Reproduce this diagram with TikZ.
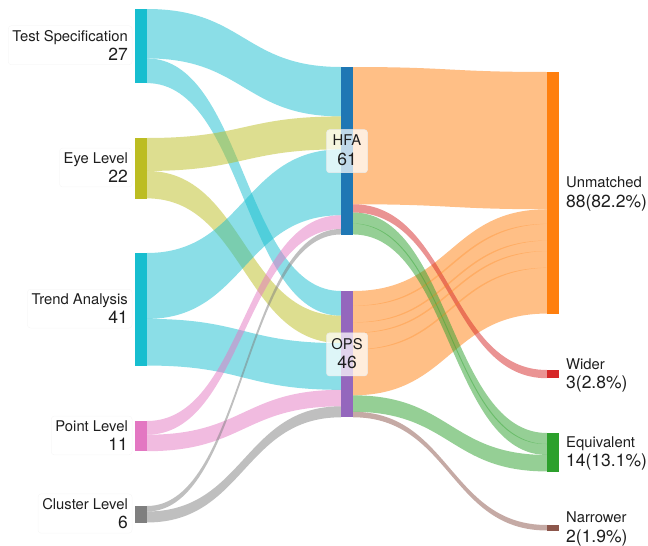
\documentclass[tikz,border=0pt]{standalone}
\usepackage{fontspec}
\setmainfont{TeX Gyre Heros}
\usetikzlibrary{fit}
\definecolor{cTS}{HTML}{17BECF}
\definecolor{cEL}{HTML}{BCBD22}
\definecolor{cPL}{HTML}{E377C2}
\definecolor{cCL}{HTML}{7F7F7F}
\definecolor{cHFA}{HTML}{1F77B4}
\definecolor{cOPS}{HTML}{9467BD}
\definecolor{cUN}{HTML}{FF7F0E}
\definecolor{cWI}{HTML}{D62728}
\definecolor{cEQ}{HTML}{2CA02C}
\definecolor{cNA}{HTML}{8C564B}
\definecolor{txt}{HTML}{1E1E1E}
\newcommand{\skale}{2.745}
% flow band: x1, y1(top), x2, y2(top), value, colour
\newcommand{\sflow}[6]{%
  \pgfmathsetmacro{\fh}{#5*\skale}%
  \pgfmathsetmacro{\fxm}{(#1+#3)/2}%
  \fill[#6, fill opacity=0.5] (#1,#2) .. controls (\fxm,#2) and (\fxm,#4) .. (#3,#4)
    -- (#3,#4+\fh) .. controls (\fxm,#4+\fh) and (\fxm,#2+\fh) .. (#1,#2+\fh) -- cycle;}
% thin tapered overlap line: x1, y1, x2, y2, bulge, style
\newcommand{\slens}[6]{%
  \pgfmathsetmacro{\fxm}{(#1+#3)/2}%
  \fill[#6] (#1,#2) .. controls (\fxm,#2) and (\fxm,#4) .. (#3,#4)
    .. controls (\fxm,#4+#5) and (\fxm,#2+#5) .. (#1,#2) -- cycle;}
% bar node: name, x, ytop, value, colour
\newcommand{\sbar}[5]{%
  \pgfmathsetmacro{\fh}{#4*\skale}%
  \node[sbarst, fill=#5, minimum height=\fh pt, anchor=north west] (#1) at (#2,#3) {};}
\tikzset{
  sbarst/.style={rectangle, inner sep=0pt, minimum width=12pt, draw=none},
  lbl/.style={font=\fontsize{14.8}{16}\selectfont, text=txt, inner sep=0pt},
  num/.style={font=\fontsize{17.5}{19}\selectfont, text=txt, inner sep=0pt},
  faintbox/.style={draw=black!3, line width=0.5pt, rounded corners=3pt, inner sep=4pt},
  midbox/.style={fill=white, fill opacity=0.72, draw=black!8, line width=0.5pt,
    rounded corners=3pt, minimum width=41pt, minimum height=43pt, inner sep=0pt},
}
\begin{document}
\begin{tikzpicture}[x=1pt, y=-1pt]
\useasboundingbox (0,0) rectangle (648,546);
% ---- left flows
\sflow{147}{9}{341}{67}{18}{cTS}
\sflow{147}{58.41}{341}{291}{9}{cTS}
\sflow{147}{138}{341}{116.41}{12}{cEL}
\sflow{147}{170.94}{341}{315.71}{10}{cEL}
\sflow{147}{253}{341}{149.35}{24}{cTS}
\sflow{147}{318.88}{341}{343.16}{17}{cTS}
\sflow{147}{421}{341}{215.23}{5}{cPL}
\sflow{147}{434.73}{341}{389.83}{6}{cPL}
\sflow{147}{506}{341}{228.96}{2}{cCL}
\sflow{147}{511.49}{341}{406.3}{4}{cCL}
% ---- right flows
\sflow{353}{67}{547}{72}{50}{cUN}
\sflow{353}{291}{547}{209.25}{38}{cUN}
\sflow{353}{204.25}{547}{370}{3}{cWI}
\sflow{353}{212.49}{547}{433}{8}{cEQ}
\sflow{353}{395.31}{547}{454.96}{6}{cEQ}
\sflow{353}{411.78}{547}{525}{2}{cNA}
% overlap lines
\slens{353}{305.6}{547}{223.85}{2.6}{cUN, fill opacity=0.28}
\slens{353}{322.3}{547}{240.5}{2.6}{cUN, fill opacity=0.28}
\slens{353}{332.7}{547}{251.0}{2.6}{cUN, fill opacity=0.28}
\slens{353}{349.4}{547}{267.7}{2.6}{cUN, fill opacity=0.28}
\slens{353}{223.5}{547}{444}{3}{cEQ, fill opacity=0.4}
% ---- bars
\sbar{ts}{135}{9}{27}{cTS}
\sbar{el}{135}{138}{22}{cEL}
\sbar{ta}{135}{253}{41}{cTS}
\sbar{pl}{135}{421}{11}{cPL}
\sbar{cl}{135}{506}{6}{cCL}
\sbar{hfa}{341}{67}{61}{cHFA}
\sbar{ops}{341}{291}{46}{cOPS}
\sbar{un}{547}{72}{88}{cUN}
\sbar{wi}{547}{370}{3}{cWI}
\sbar{eq}{547}{433}{14}{cEQ}
\sbar{na}{547}{525}{2}{cNA}
% ---- left labels
\node[lbl, anchor=base east] (tsl) at (128,41) {Test Specification};
\node[num, anchor=base east] (tsn) at (128,60.5) {27};
\node[lbl, anchor=base east] (ell) at (128,163.2) {Eye Level};
\node[num, anchor=base east] (eln) at (128,182.7) {22};
\node[lbl, anchor=base east] (tal) at (128,304.3) {Trend Analysis};
\node[num, anchor=base east] (tan) at (128,323.8) {41};
\node[lbl, anchor=base east] (pll) at (128,431.1) {Point Level};
\node[num, anchor=base east] (pln) at (128,450.6) {11};
\node[lbl, anchor=base east] (cll) at (128,509.2) {Cluster Level};
\node[num, anchor=base east] (cln) at (128,528.7) {6};
\node[faintbox, fit=(tsl)(tsn)] (tsb) {};
\node[faintbox, fit=(ell)(eln)] (elb) {};
\node[faintbox, fit=(tal)(tan)] (tab) {};
\node[faintbox, fit=(pll)(pln)] (plb) {};
\node[faintbox, fit=(cll)(cln)] (clb) {};
% ---- middle labels
\node[midbox] (hfab) at (347,151.2) {};
\node[lbl, anchor=base] (hfal) at (347,145.7) {HFA};
\node[num, anchor=base] (hfan) at (347,165.2) {61};
\node[midbox] (opsb) at (347,354.4) {};
\node[lbl, anchor=base] (opsl) at (347,349.1) {OPS};
\node[num, anchor=base] (opsn) at (347,368.6) {46};
% ---- right labels
\node[lbl, anchor=base west] (unl) at (566,187.8) {Unmatched};
\node[num, anchor=base west] (unn) at (566,207.3) {88(82.2\%)};
\node[lbl, anchor=base west] (wil) at (566,369.1) {Wider};
\node[num, anchor=base west] (win) at (566,388.6) {3(2.8\%)};
\node[lbl, anchor=base west] (eql) at (566,447.2) {Equivalent};
\node[num, anchor=base west] (eqn) at (566,466.7) {14(13.1\%)};
\node[lbl, anchor=base west] (nal) at (566,522.7) {Narrower};
\node[num, anchor=base west] (nan) at (566,542.2) {2(1.9\%)};
\end{tikzpicture}
\end{document}
